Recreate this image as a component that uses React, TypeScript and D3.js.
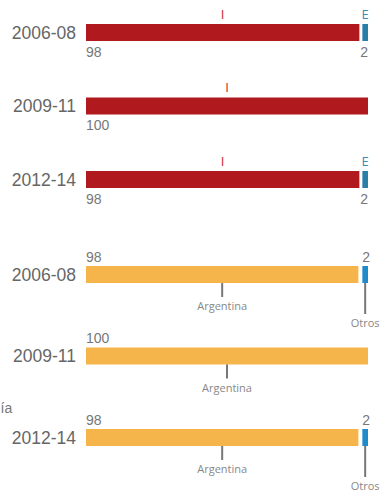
import React from "react";
import * as d3 from "d3";

const periods = ["2006-08", "2009-11", "2012-14"];
const topKeys = ["I", "E"];
const topI = [98, 100, 98];
const topE = [2, 0, 2];
const originKeys = ["Argentina", "Otros"];
const originArg = [98, 100, 98];
const originOtros = [2, 0, 2];
const cutLabel = "ía";

const W = 380;
const H = 492;
const BAR_H = 17;

const x = d3.scaleLinear().domain([0, 100]).range([86, 368]);
const yTop = d3.scalePoint<string>().domain(periods).range([24, 171]);
const yBot = d3.scalePoint<string>().domain(periods).range([266, 429]);

const topColors = ["#B0191E", "#2B7FA6"];
const topTextColors = ["#C8272C", "#3A8DB6"];
const botColors = ["#F5B54A", "#1F8BCB"];

type Seg = { key: string; v: number; x0: number; x1: number; last: boolean };

function segs(vals: number[], keys: string[], gap: number): Seg[] {
  const out: Seg[] = [];
  let cum = 0;
  const nz = vals.map((v, i) => ({ v, k: keys[i], i })).filter((d) => d.v > 0);
  nz.forEach((d, j) => {
    const last = j === nz.length - 1;
    const x0 = x(cum);
    const x1 = x(cum + d.v) - (last ? 0 : gap);
    out.push({ key: d.k, v: d.v, x0, x1, last });
    cum += d.v;
  });
  return out;
}

const yearFont = "'Liberation Sans', Arial, sans-serif";
const smallFont = "'Open Sans', sans-serif";

export default function App() {
  return (
    <svg
      width={W}
      height={H}
      style={{ position: "absolute", left: 0, top: 0, background: "#fff" }}
    >
      {periods.map((p, i) => {
        const y0 = yTop(p)!;
        const s = segs([topI[i], topE[i]], topKeys, 3);
        return (
          <g key={"t" + p}>
            <text
              x={76}
              y={y0 + BAR_H / 2 + 6.3}
              textAnchor="end"
              fontFamily={yearFont}
              fontSize={17.5}
              fill="#666"
            >
              {p}
            </text>
            {s.map((d, j) => (
              <g key={d.key}>
                <rect
                  x={d.x0}
                  y={y0}
                  width={d.x1 - d.x0}
                  height={BAR_H}
                  fill={topColors[topKeys.indexOf(d.key)]}
                />
                <text
                  x={(d.x0 + d.x1) / 2}
                  y={y0 - 5.5}
                  textAnchor="middle"
                  fontFamily={smallFont}
                  fontSize={13}
                  fill={topTextColors[topKeys.indexOf(d.key)]}
                >
                  {d.key}
                </text>
                <text
                  x={j === 0 ? d.x0 : d.x1}
                  y={y0 + BAR_H + 15.5}
                  textAnchor={j === 0 ? "start" : "end"}
                  fontFamily={yearFont}
                  fontSize={14}
                  fill="#777"
                >
                  {d.v}
                </text>
              </g>
            ))}
          </g>
        );
      })}
      <text x={0.5} y={412.5} textAnchor="start" fontFamily={yearFont} fontSize={14} fill="#777">
        {cutLabel}
      </text>
      {periods.map((p, i) => {
        const y0 = yBot(p)!;
        const s = segs([originArg[i], originOtros[i]], originKeys, 4);
        return (
          <g key={"b" + p}>
            <text
              x={76}
              y={y0 + BAR_H / 2 + 6.3}
              textAnchor="end"
              fontFamily={yearFont}
              fontSize={17.5}
              fill="#666"
            >
              {p}
            </text>
            {s.map((d, j) => {
              const cx = (d.x0 + d.x1) / 2;
              const tickLen = j === 0 ? 14 : 31;
              return (
                <g key={d.key}>
                  <rect
                    x={d.x0}
                    y={y0}
                    width={d.x1 - d.x0}
                    height={BAR_H}
                    fill={botColors[originKeys.indexOf(d.key)]}
                  />
                  <text
                    x={d.x0}
                    y={y0 - 4.5}
                    textAnchor="start"
                    fontFamily={yearFont}
                    fontSize={14}
                    fill="#777"
                  >
                    {d.v}
                  </text>
                  <line
                    x1={cx}
                    x2={cx}
                    y1={y0 + BAR_H}
                    y2={y0 + BAR_H + tickLen}
                    stroke="#777"
                    strokeWidth={2}
                  />
                  <text
                    x={cx}
                    y={y0 + BAR_H + tickLen + 13}
                    textAnchor="middle"
                    fontFamily={smallFont}
                    fontSize={11}
                    fill="#888"
                  >
                    {d.key}
                  </text>
                </g>
              );
            })}
          </g>
        );
      })}
    </svg>
  );
}
